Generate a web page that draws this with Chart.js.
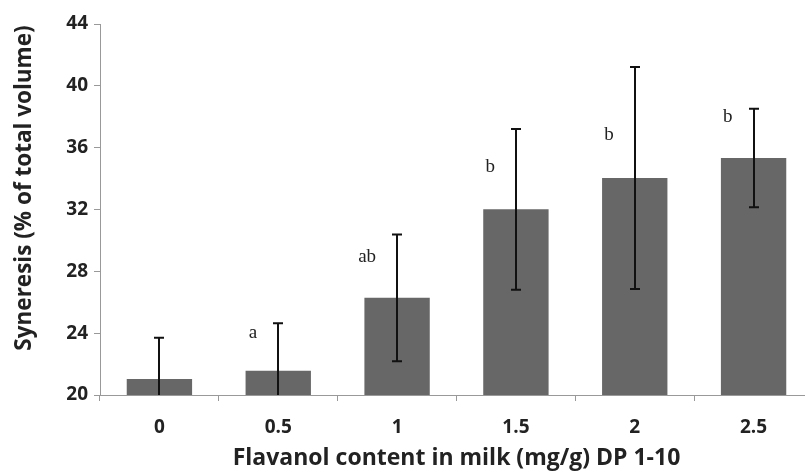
<!DOCTYPE html>
<html>
<head>
<meta charset="utf-8">
<script src="https://cdn.jsdelivr.net/npm/chart.js@4"></script>
<style>
html,body{margin:0;padding:0;background:#fff;overflow:hidden;}
#wrap{position:relative;width:815px;height:472px;}
</style>
</head>
<body>
<div id="wrap"><canvas id="c"></canvas></div>
<script>
const categories = ['0', '0.5', '1', '1.5', '2', '2.5'];
const syneresis = [21.03, 21.57, 26.29, 32.01, 34.04, 35.33];
const errorSD = [2.68, 3.07, 4.1, 5.2, 7.18, 3.19];
const letters = ['', 'a', 'ab', 'b', 'b', 'b'];
const letterY = [null, 24.0, 28.9, 34.75, 36.8, 38.0];
const yTicks = [20, 24, 28, 32, 36, 40, 44];
const yTitle = 'Syneresis (% of total volume)';
const xTitle = 'Flavanol content in milk (mg/g) DP 1-10';

const FAMILY = '"Open Sans", "DejaVu Sans", sans-serif';

const errorPlugin = {
  id: 'errorBars',
  afterDatasetsDraw(chart) {
    const ctx = chart.ctx;
    const x = chart.scales.x, y = chart.scales.y;
    const area = chart.chartArea;
    ctx.save();
    ctx.beginPath();
    ctx.rect(area.left, area.top - 5, area.right - area.left, area.bottom - area.top + 5);
    ctx.clip();
    ctx.strokeStyle = '#111';
    ctx.lineWidth = 2;
    syneresis.forEach((v, i) => {
      const cx = Math.round(x.getPixelForValue(i));
      const top = y.getPixelForValue(v + errorSD[i]);
      const bot = y.getPixelForValue(v - errorSD[i]);
      ctx.beginPath();
      ctx.moveTo(cx, top); ctx.lineTo(cx, bot);
      ctx.moveTo(cx - 5, top); ctx.lineTo(cx + 5, top);
      ctx.moveTo(cx - 5, bot); ctx.lineTo(cx + 5, bot);
      ctx.stroke();
    });
    ctx.restore();
    ctx.save();
    ctx.fillStyle = '#222';
    ctx.font = '19px "Liberation Serif", "Times New Roman", serif';
    ctx.textAlign = 'right';
    ctx.textBaseline = 'middle';
    letters.forEach((t, i) => {
      if (!t) return;
      ctx.fillText(t, x.getPixelForValue(i) - 21, y.getPixelForValue(letterY[i]));
    });
    ctx.restore();
    // y axis title
    ctx.save();
    ctx.fillStyle = '#222';
    ctx.font = 'bold 22.5px ' + FAMILY;
    ctx.textAlign = 'center';
    ctx.textBaseline = 'middle';
    ctx.translate(25, 188);
    ctx.rotate(-Math.PI / 2);
    ctx.fillText(yTitle, 0, 0);
    ctx.restore();
  }
};

const tickFont = { family: FAMILY, size: 19, weight: 'bold' };
const titleFont = { family: FAMILY, size: 23, weight: 'bold' };

new Chart(document.getElementById('c'), {
  type: 'bar',
  data: {
    labels: categories,
    datasets: [{
      data: syneresis,
      backgroundColor: '#676767',
      borderWidth: 0,
      barPercentage: 0.55,
      categoryPercentage: 1.0
    }]
  },
  options: {
    responsive: true,
    maintainAspectRatio: false,
    animation: false,
    devicePixelRatio: 1,
    layout: { padding: { top: 24, left: 0, right: 2, bottom: 0 } },
    plugins: { legend: { display: false }, tooltip: { enabled: false } },
    scales: {
      x: {
        offset: true,
        grid: { drawOnChartArea: false, offset: true, tickLength: 6, color: '#999' },
        border: { color: '#999', width: 1 },
        ticks: { color: '#222', font: tickFont, padding: 15 },
        title: { display: true, text: xTitle, color: '#222', font: titleFont, padding: { top: 0, bottom: 0 } },
        afterFit(s) { s.height = 77; }
      },
      y: {
        min: 20, max: 44,
        afterBuildTicks(s) { s.ticks = yTicks.map(v => ({ value: v })); },
        grid: { drawOnChartArea: false, tickLength: 6, color: '#999' },
        border: { color: '#999', width: 1 },
        ticks: { color: '#222', font: tickFont, padding: 6 },
        title: { display: false },
        afterFit(s) { s.width = 100; }
      }
    }
  },
  plugins: [errorPlugin]
});
</script>
</body>
</html>
